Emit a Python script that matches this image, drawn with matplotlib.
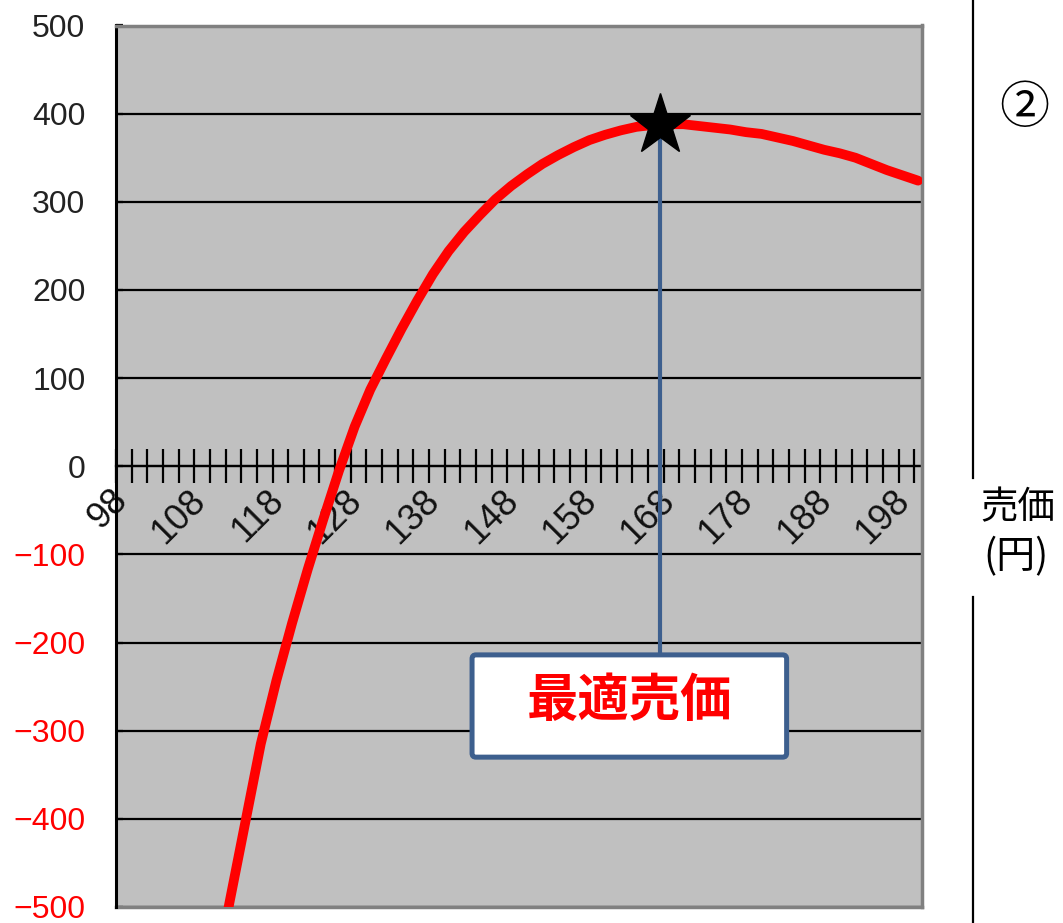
import matplotlib.pyplot as plt
import numpy as np
from matplotlib.patches import FancyBboxPatch
from matplotlib.lines import Line2D
import matplotlib.transforms as mtransforms

# 売価と利益
price = [110, 112, 114, 116, 118, 120, 122, 124, 126, 128, 130, 132, 134, 136,
         138, 140, 142, 144, 146, 148, 150, 152, 154, 156, 158, 160, 162, 164,
         166, 168, 170, 172, 174, 176, 178, 180, 182, 184, 186, 188, 190, 192,
         194, 196, 198, 200]
profit = [-590, -495, -405, -315, -243, -178, -117, -60, -5, 45, 87, 122, 156, 188,
          218, 244, 266, 285, 303, 318, 331, 343, 353, 362, 370, 376, 381, 385,
          387, 388, 388, 386, 384, 382, 379, 377, 373, 369, 364, 359, 355, 350,
          343, 336, 330, 324]

opt_price = 167
opt_profit = 387

xlabels = [98, 108, 118, 128, 138, 148, 158, 168, 178, 188, 198]
yticks = [-500, -400, -300, -200, -100, 0, 100, 200, 300, 400, 500]

W, H = 1063, 923
fig = plt.figure(figsize=(W / 100, H / 100), dpi=100)
ax = fig.add_axes([116 / W, 1 - 907 / H, 806 / W, 881.5 / H])
ax.set_facecolor('#c0c0c0')

ax.plot(price, profit, color='#ff0000', lw=7, solid_capstyle='round',
        solid_joinstyle='round', zorder=3)

ax.set_xlim(97.5, 200.5)
ax.set_ylim(-500, 500)

# 横軸は y=0 の位置
ax.spines['bottom'].set_position(('data', 0))
ax.spines['bottom'].set_color('black')
ax.spines['bottom'].set_linewidth(1.6)
ax.spines['bottom'].set_zorder(2)
ax.spines['left'].set_color('black')
ax.spines['left'].set_linewidth(2.2)
for s in ['top', 'right']:
    ax.spines[s].set_color('#808080')
    ax.spines[s].set_linewidth(2.5)
ax.plot([0, 1], [0, 0], transform=ax.transAxes, color='#808080', lw=2.5,
        clip_on=False, zorder=2.5)

ax.set_xticks(xlabels, [str(v) for v in xlabels])
ax.set_xticks(np.arange(97.5, 201, 2), minor=True)
ax.tick_params(axis='x', which='major', length=0, pad=12)
ax.tick_params(axis='x', which='minor', direction='inout', length=24, width=1.6,
               color='black')
offset = mtransforms.ScaledTranslation(14 / 100, 0, fig.dpi_scale_trans)
for lab in ax.get_xticklabels():
    lab.set_rotation(45)
    lab.set_ha('right')
    lab.set_va('top')
    lab.set_fontsize(26)
    lab.set_fontfamily('Liberation Sans')
    lab.set_color('#111111')
    lab.set_transform(lab.get_transform() + offset)

ax.set_yticks(yticks, [str(v).replace('-', '\u2212') for v in yticks])
ax.tick_params(axis='y', direction='in', length=5, width=1.6, pad=22,
               color='black')
for lab, v in zip(ax.get_yticklabels(), yticks):
    lab.set_fontsize(23)
    lab.set_fontfamily('Liberation Sans')
    lab.set_color('#ff0000' if v < 0 else '#222222')

ax.grid(axis='y', color='black', lw=1.6)
ax.grid(axis='x', visible=False)

# 最適売価の印と引き出し線
box_x0, box_x1 = 143.0, 183.2
box_y0, box_y1 = -330, -214
ax.plot([opt_price, opt_price], [opt_profit, box_y1], color='#3d5f8e', lw=3,
        zorder=4)
ax.plot(opt_price, opt_profit, marker='*', markersize=46, color='black',
        zorder=5)

box = FancyBboxPatch((box_x0, box_y0), box_x1 - box_x0, box_y1 - box_y0,
                     boxstyle='round,pad=0,rounding_size=0.5',
                     mutation_aspect=8.9, facecolor='white',
                     edgecolor='#3d5f8e', lw=3.6, zorder=6)
ax.add_patch(box)
ax.text((box_x0 + box_x1) / 2, -266, '最適売価', color='#ff0000',
        fontsize=37, fontweight='bold', family=['Noto Sans CJK JP'],
        ha='center', va='center', zorder=7)

# 右側の区切り線と注記
fig.add_artist(Line2D([973 / W, 973 / W], [1, 1 - 478 / H], color='black', lw=1.6))
fig.add_artist(Line2D([973 / W, 973 / W], [1 - 597 / H, 0], color='black', lw=1.6))
fig.text(1024 / W, 1 - 109 / H, '②', fontsize=36, family=['Noto Sans CJK JP'],
         ha='center', va='center')
fig.text(1018 / W, 1 - 508 / H, '売価', fontsize=27, family=['Noto Sans CJK JP'],
         ha='center', va='center')
fig.text(1016 / W, 1 - 557 / H, '(円)', fontsize=28, family=['Noto Sans CJK JP'],
         ha='center', va='center')

fig.savefig('out.png', dpi=100)
